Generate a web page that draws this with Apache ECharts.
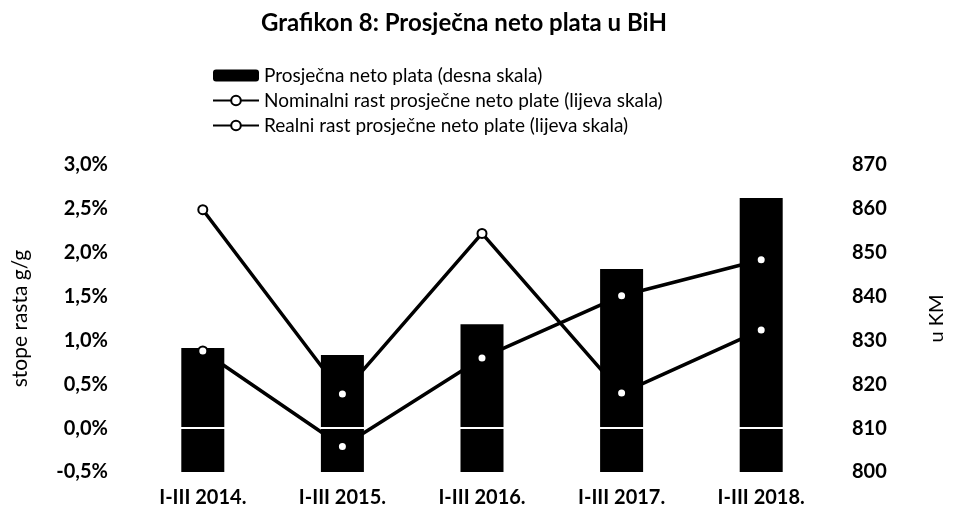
<!DOCTYPE html>
<html>
<head>
<meta charset="utf-8">
<script src="https://cdn.jsdelivr.net/npm/echarts@6/dist/echarts.min.js"></script>
<style>
  html, body { margin: 0; padding: 0; background: #fff; }
  #chart { width: 955px; height: 518px; }
</style>
</head>
<body>
<div id="chart"></div>
<script>
const categories = ['I-III 2014.', 'I-III 2015.', 'I-III 2016.', 'I-III 2017.', 'I-III 2018.'];
// prosječna neto plata, KM (desna skala)
const avgNetWage = [828.3, 826.7, 833.7, 846.3, 862.5];
// stope rasta g/g, % (lijeva skala)
const nominalGrowth = [0.88, -0.21, 0.80, 1.51, 1.92];
const realGrowth = [2.49, 0.39, 2.22, 0.40, 1.12];

const FONT = 'Lato, "Noto Sans", sans-serif';

function formatPct(value) {
  return value.toFixed(1).replace('.', ',') + '%';
}

const chart = echarts.init(document.getElementById('chart'), null, { renderer: 'canvas' });

const lineSeries = (name, data) => ({
  name,
  type: 'line',
  yAxisIndex: 0,
  data,
  z: 5,
  symbol: 'circle',
  symbolSize: 9,
  lineStyle: { color: '#000', width: 3.5 },
  itemStyle: { color: '#fff', borderColor: '#000', borderWidth: 2 }
});

chart.setOption({
  animation: false,
  backgroundColor: '#fff',
  textStyle: { fontFamily: FONT, color: '#000' },
  title: {
    text: 'Grafikon 8: Prosječna neto plata u BiH',
    left: 256,
    top: 6,
    textStyle: { fontFamily: FONT, fontSize: 24, fontWeight: 'bold', color: '#000' }
  },
  legend: {
    orient: 'vertical',
    left: 207,
    top: 61,
    itemWidth: 46,
    itemHeight: 12,
    itemGap: 6,
    textStyle: { fontFamily: FONT, fontSize: 19, color: '#000' },
    data: [
      'Prosječna neto plata (desna skala)',
      'Nominalni rast prosječne neto plate (lijeva skala)',
      'Realni rast prosječne neto plate (lijeva skala)'
    ]
  },
  grid: { left: 133, right: 103, top: 165, bottom: 46 },
  xAxis: [
    {
      type: 'category',
      data: categories,
      position: 'bottom',
      axisLine: { show: false },
      axisTick: { show: false },
      axisLabel: { fontFamily: FONT, fontSize: 20, fontWeight: 'bold', color: '#000', margin: 16 }
    },
    {
      // bijela linija na 0% preko stubaca
      type: 'category',
      data: categories,
      position: 'bottom',
      z: 3,
      axisLine: { onZero: true, onZeroAxisIndex: 0, lineStyle: { color: '#fff', width: 2 } },
      axisTick: { show: false },
      axisLabel: { show: false }
    }
  ],
  yAxis: [
    {
      type: 'value',
      position: 'left',
      min: -0.5,
      max: 3.0,
      interval: 0.5,
      name: 'stope rasta g/g',
      nameLocation: 'middle',
      nameRotate: 90,
      nameGap: 102,
      nameTextStyle: { fontFamily: FONT, fontSize: 21, color: '#000' },
      axisLine: { show: false },
      axisTick: { show: false },
      splitLine: { show: false },
      axisLabel: { fontFamily: FONT, fontSize: 20, fontWeight: 'bold', color: '#000', margin: 25, formatter: formatPct }
    },
    {
      type: 'value',
      position: 'right',
      min: 800,
      max: 870,
      interval: 10,
      name: 'u KM',
      nameLocation: 'middle',
      nameRotate: 90,
      nameGap: 96,
      nameTextStyle: { fontFamily: FONT, fontSize: 20, color: '#000' },
      axisLine: { show: false },
      axisTick: { show: false },
      splitLine: { show: false },
      axisLabel: { fontFamily: FONT, fontSize: 20, fontWeight: 'bold', color: '#000', margin: 21 }
    }
  ],
  series: [
    {
      name: 'Prosječna neto plata (desna skala)',
      type: 'bar',
      yAxisIndex: 1,
      data: avgNetWage,
      barWidth: 43,
      z: 1,
      itemStyle: { color: '#000' }
    },
    lineSeries('Nominalni rast prosječne neto plate (lijeva skala)', nominalGrowth),
    lineSeries('Realni rast prosječne neto plate (lijeva skala)', realGrowth)
  ]
});
</script>
</body>
</html>
